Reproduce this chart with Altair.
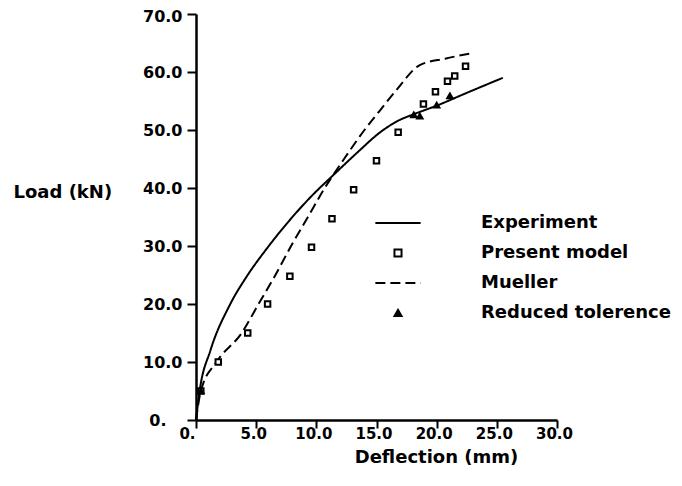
import altair as alt
import pandas as pd

# ---- data ----
exp_x = [0.0, 0.3, 1.2, 2.8, 4.2, 5.9, 7.6, 9.6, 11.5, 13.5, 15.3, 16.8, 18.2, 20.0, 22.5, 25.5]
exp_y = [0.0, 5.0, 12.0, 19.8, 24.7, 29.6, 34.0, 38.6, 42.4, 46.3, 49.6, 51.6, 52.8, 54.2, 56.4, 59.0]

mue_x = [0.0, 0.4, 1.7, 3.8, 5.2, 6.6, 7.9, 9.3, 10.7, 12.3, 14.0, 15.3, 16.7, 18.6, 20.7, 22.8]
mue_y = [0.0, 5.0, 10.0, 15.0, 20.0, 25.0, 30.0, 35.0, 40.0, 45.0, 50.0, 53.4, 57.0, 61.2, 62.3, 63.2]

pm_x = [0.4, 1.85, 4.3, 5.95, 7.8, 9.6, 11.3, 13.1, 15.0, 16.8, 18.9, 19.9, 20.9, 21.5, 22.4]
pm_y = [5.0, 10.0, 15.0, 20.0, 24.8, 29.8, 34.7, 39.7, 44.7, 49.6, 54.5, 56.6, 58.4, 59.3, 61.0]

rt_x = [0.4, 18.1, 18.6, 20.0, 21.1]
rt_y = [5.0, 52.6, 52.4, 54.3, 55.9]

series_order = ["Experiment", "Present model", "Mueller", "Reduced tolerence"]
x_ticks = [0, 5, 10, 15, 20, 25, 30]
y_ticks = [0, 10, 20, 30, 40, 50, 60, 70]

lines_df = pd.DataFrame({
    "x": exp_x + mue_x,
    "y": exp_y + mue_y,
    "series": ["Experiment"] * len(exp_x) + ["Mueller"] * len(mue_x),
})
pts_df = pd.DataFrame({
    "x": pm_x + rt_x,
    "y": pm_y + rt_y,
    "series": ["Present model"] * len(pm_x) + ["Reduced tolerence"] * len(rt_x),
})

FONT = "DejaVu Sans"
LINE_PATH = "M-6.4,0H6.4"

legend = alt.Legend(
    orient="none", legendX=193, legendY=200, title=None,
    labelFont=FONT, labelFontWeight="bold", labelFontSize=18, labelColor="black",
    labelLimit=400,
    symbolSize=50, symbolStrokeWidth=2, symbolStrokeColor="black",
    labelOffset=74, rowPadding=12, padding=0,
)

shape_scale = alt.Scale(domain=series_order, range=[LINE_PATH, "square", LINE_PATH, "triangle-up"])
dash_scale = alt.Scale(domain=series_order, range=[[1, 0], [1, 0], [10, 5], [1, 0]])
fill_scale = alt.Scale(domain=series_order, range=["transparent", "white", "transparent", "black"])
stroke_scale = alt.Scale(domain=series_order, range=["black", "black", "black", "black"])

x_enc = alt.X("x:Q", scale=alt.Scale(domain=[0, 30], nice=False),
              axis=alt.Axis(values=x_ticks,
                            labelExpr="datum.value == 0 ? '0.' : format(datum.value, '.1f')",
                            tickSize=8, labelPadding=-2, labelFlush=False, labelFontSize=15,
                            labelOffset={"condition": {"test": "datum.value == 0", "value": -9}, "value": -3},
                            title="Deflection (mm)", titleX=240, titleY=37,
                            titleAlign="center", titleBaseline="middle"))
y_enc = alt.Y("y:Q", scale=alt.Scale(domain=[0, 70], nice=False),
              axis=alt.Axis(values=y_ticks,
                            labelExpr="datum.value == 0 ? '0.' : format(datum.value, '.1f')",
                            tickSize=9, labelFlush=False,
                            labelOffset={"condition": {"test": "datum.value == 70", "value": 2}, "value": 0},
                            labelPadding={"condition": {"test": "datum.value == 0", "value": 21}, "value": 5},
                            title="Load (kN)", titleAngle=0, titleX=-183, titleY=178,
                            titleAlign="left", titleBaseline="middle"))

lines = alt.Chart(lines_df).mark_line(strokeWidth=2, interpolate="monotone").encode(
    x=x_enc, y=y_enc,
    stroke=alt.Stroke("series:N", scale=stroke_scale, legend=legend),
    strokeDash=alt.StrokeDash("series:N", scale=dash_scale, legend=legend),
    detail="series:N",
)

points = alt.Chart(pts_df).mark_point(strokeWidth=2, size=30, filled=True, opacity=1).encode(
    x=x_enc, y=y_enc,
    stroke=alt.Stroke("series:N", scale=stroke_scale, legend=legend),
    shape=alt.Shape("series:N", scale=shape_scale, legend=legend),
    fill=alt.Fill("series:N", scale=fill_scale, legend=legend),
)

chart = alt.layer(lines, points).properties(
    width=361, height=406,
    padding={"left": 188, "top": 6, "right": 117, "bottom": 58},
    autosize=alt.AutoSizeParams(type="none"),
).configure_view(stroke=None).configure_axis(
    grid=False, domainColor="black", domainWidth=2.5, tickColor="black", tickWidth=2,
    labelFont=FONT, labelFontWeight="bold", labelFontSize=16, labelColor="black",
    titleFont=FONT, titleFontWeight="bold", titleFontSize=18, titleColor="black",
)

chart.save("out.html", embed_options={"renderer": "svg", "actions": False})
